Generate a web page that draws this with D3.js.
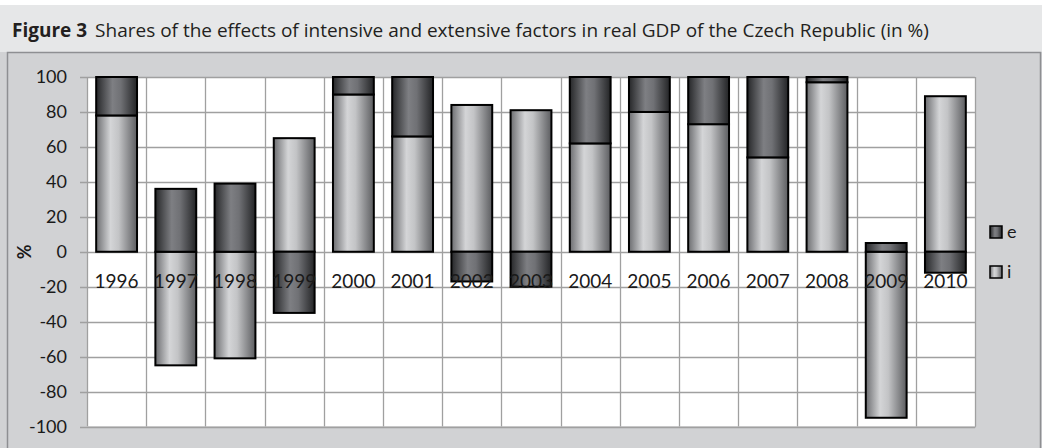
<!DOCTYPE html>
<html lang="en">
<head>
  <meta charset="UTF-8" />
  <title>Figure 3 - intensive and extensive factors</title>
  <style>
    html, body { margin: 0; padding: 0; background: #fff; }
    svg { display: block; }
    .tick-label { font-family: Lato, sans-serif; font-size: 18px; fill: #1a1a1a; }
    .cat-label { font-family: Lato, sans-serif; font-size: 19px; fill: #1a1a1a; text-anchor: middle; }
    .title { font-family: "Open Sans", sans-serif; font-size: 19px; fill: #231f20; }
  </style>
</head>
<body>
  <svg width="1042" height="448"></svg>
  <script src="https://d3js.org/d3.v7.min.js"></script>
  <script>
    const years = ["1996","1997","1998","1999","2000","2001","2002","2003","2004","2005","2006","2007","2008","2009","2010"];
    // share of intensive factors (i) and extensive factors (e), in %
    const iValues = [78, -65, -61, 65, 90, 66, 84, 81, 62, 80, 73, 54, 97, -95, 89];
    const eValues = [22, 36, 39, -35, 10, 34, -17, -20, 38, 20, 27, 46, 3, 5, -12];
    const yTicks = [-100, -80, -60, -40, -20, 0, 20, 40, 60, 80, 100];

    const svg = d3.select("svg");

    // title bar and chart background
    svg.append("rect").attr("x", 0).attr("y", 5).attr("width", 1042).attr("height", 47).attr("fill", "#e6e7e8");
    svg.append("rect").attr("x", 0).attr("y", 52).attr("width", 1042).attr("height", 396).attr("fill", "#d1d2d4");
    svg.append("rect").attr("x", 7.5).attr("y", 52.5).attr("width", 1033).attr("height", 400)
      .attr("fill", "#d1d2d4").attr("stroke", "#8e8f92").attr("stroke-width", 1.5);

    const title = svg.append("text").attr("class", "title").attr("x", 12).attr("y", 37);
    title.append("tspan").attr("font-weight", "bold").text("Figure 3");
    title.append("tspan").attr("dx", 8).text("Shares of the effects of intensive and extensive factors in real GDP of the Czech Republic (in %)");

    const plot = { left: 87, right: 975, top: 77, bottom: 426.5 };

    const x = d3.scaleBand().domain(years).range([plot.left, plot.right])
      .paddingInner(0.31).paddingOuter(0.155);
    const y = d3.scaleLinear().domain([-100, 100]).range([plot.bottom, plot.top]);

    // gradients imitating Excel cylinder shading
    const defs = svg.append("defs");
    function grad(id, stops) {
      const g = defs.append("linearGradient").attr("id", id)
        .attr("x1", "0%").attr("x2", "100%").attr("y1", "0%").attr("y2", "0%");
      stops.forEach(s => g.append("stop").attr("offset", s[0]).attr("stop-color", s[1]));
    }
    grad("grad-i", [["0%", "#6c6d70"], ["35%", "#d4d5d7"], ["55%", "#c3c4c6"], ["100%", "#5c5d60"]]);
    grad("grad-e", [["0%", "#262729"], ["40%", "#7e7f83"], ["60%", "#707175"], ["100%", "#232426"]]);

    // plot area with shadow
    svg.append("rect").attr("x", plot.left + 1).attr("y", plot.top + 1)
      .attr("width", plot.right - plot.left).attr("height", plot.bottom - plot.top).attr("fill", "#a9aaad");
    svg.append("rect").attr("x", plot.left).attr("y", plot.top)
      .attr("width", plot.right - plot.left).attr("height", plot.bottom - plot.top).attr("fill", "#fff");

    // horizontal gridlines
    svg.append("g").selectAll("line").data(yTicks).join("line")
      .attr("x1", plot.left - 7).attr("x2", plot.right)
      .attr("y1", d => Math.round(y(d)) + 0.5).attr("y2", d => Math.round(y(d)) + 0.5)
      .attr("stroke", "#a0a0a0").attr("stroke-width", 1.3);

    // vertical gridlines at category boundaries
    const bounds = years.map((d, i) => plot.left + i * x.step());
    bounds.push(plot.right);
    svg.append("g").selectAll("line").data(bounds).join("line")
      .attr("x1", d => Math.round(d) + 0.5).attr("x2", d => Math.round(d) + 0.5)
      .attr("y1", plot.top).attr("y2", plot.bottom)
      .attr("stroke", "#a0a0a0").attr("stroke-width", 1.3);

    // y tick labels
    svg.append("g").selectAll("text").data(yTicks).join("text")
      .attr("class", "tick-label")
      .attr("x", 67).attr("y", d => y(d)).attr("dy", "0.35em")
      .attr("text-anchor", "end")
      .text(d => d);

    svg.append("text").attr("class", "tick-label")
      .attr("transform", `translate(25, ${y(0)}) rotate(-90)`)
      .attr("text-anchor", "middle").attr("dy", "0.35em")
      .attr("font-weight", "bold")
      .text("%");

    // stacked bars: i from zero, e stacked on i when same sign
    const bars = [];
    years.forEach((yr, k) => {
      const iv = iValues[k], ev = eValues[k];
      bars.push({ year: yr, series: "i", y0: 0, y1: iv });
      const base = (Math.sign(ev) === Math.sign(iv)) ? iv : 0;
      bars.push({ year: yr, series: "e", y0: base, y1: base + ev });
    });

    svg.append("g").selectAll("rect").data(bars).join("rect")
      .attr("x", d => x(d.year))
      .attr("width", x.bandwidth())
      .attr("y", d => y(Math.max(d.y0, d.y1)))
      .attr("height", d => Math.abs(y(d.y0) - y(d.y1)))
      .attr("fill", d => d.series === "i" ? "url(#grad-i)" : "url(#grad-e)")
      .attr("stroke", "#000").attr("stroke-width", 2);

    // category labels
    svg.append("g").selectAll("text").data(years).join("text")
      .attr("class", "cat-label")
      .attr("x", d => x(d) + x.bandwidth() / 2)
      .attr("y", y(0) + 30)
      .attr("dy", "0.35em")
      .text(d => d);

    // legend
    const legend = svg.append("g").selectAll("g").data([["e", 232], ["i", 272]]).join("g")
      .attr("transform", d => `translate(990, ${d[1]})`);
    legend.append("rect").attr("x", 0).attr("y", -6).attr("width", 12).attr("height", 12)
      .attr("fill", d => `url(#grad-${d[0]})`).attr("stroke", "#000").attr("stroke-width", 1.5);
    legend.append("text").attr("class", "tick-label").attr("x", 17).attr("dy", "0.35em").text(d => d[0]);
  </script>
</body>
</html>
